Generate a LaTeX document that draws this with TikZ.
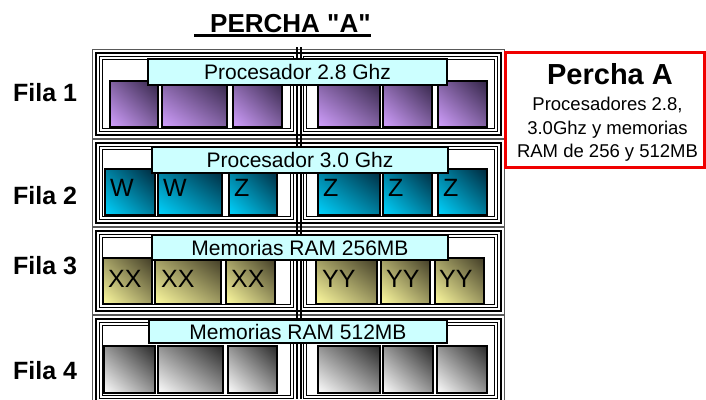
\documentclass[tikz,border=0pt]{standalone}
\usepackage{fontspec}
\usetikzlibrary{shadings}
\setmainfont{Liberation Sans}
\newfontfamily\plainsans{Liberation Sans}
\definecolor{purpL}{RGB}{210,160,255}
\definecolor{purpD}{RGB}{50,36,70}
\definecolor{purpM}{RGB}{130,98,162}
\definecolor{cyanL}{RGB}{0,212,255}
\definecolor{cyanD}{RGB}{0,40,60}
\definecolor{cyanM}{RGB}{0,126,158}
\definecolor{yelL}{RGB}{255,252,160}
\definecolor{yelD}{RGB}{65,60,38}
\definecolor{yelM}{RGB}{160,156,99}
\definecolor{greyL}{RGB}{255,255,255}
\definecolor{greyD}{RGB}{40,40,40}
\definecolor{greyM}{RGB}{148,148,148}
\definecolor{labelcyan}{RGB}{204,255,255}
\definecolor{perchared}{RGB}{240,0,0}
\begin{document}
\begin{tikzpicture}[x=1pt,y=-1pt,
  rowthin/.style={draw=black!65, line width=0.9pt},
  rowthick/.style={draw=black, line width=2pt},
  boxline/.style={draw=black, line width=1pt},
  chip/.style={draw=black, line width=1.5pt},
  purplechip/.style={chip, lower left=purpL, upper right=purpD, upper left=purpM, lower right=purpM},
  cyanchip/.style={chip, lower left=cyanL, upper right=cyanD, upper left=cyanM, lower right=cyanM},
  yellowchip/.style={chip, lower left=yelL, upper right=yelD, upper left=yelM, lower right=yelM},
  greychip/.style={chip, lower left=greyL, upper right=greyD, upper left=greyM, lower right=greyM},
  labelbox/.style={draw=black, line width=1.5pt, fill=labelcyan, inner sep=0pt,
    font=\fontsize{21}{25}\selectfont},
  fila/.style={anchor=base west, inner sep=0pt, font=\fontsize{25}{30}\selectfont\bfseries},
  chiptext/.style={anchor=base west, inner sep=0pt, font=\fontsize{25}{30}\selectfont},
  infotext/.style={anchor=base, inner sep=0pt, font=\fontsize{18.5}{22}\selectfont},
]
\useasboundingbox (0,0) rectangle (706,399);

% title
\node[anchor=base west, inner sep=0pt, font=\plainsans\fontsize{26}{31}\selectfont\bfseries]
  (title) at (194,32.3) {\hspace{16pt}PERCHA "A"};
\draw[line width=2.6pt] ([yshift=-3pt]title.south west) -- ([yshift=-3pt]title.south east);

% row frames
\foreach \ya/\yb in {49.5/138,139/226,227/314,315/405}{
  \draw[rowthin] (92,\ya) rectangle (504,\yb);
  \draw[rowthick] (95.5,\ya+3.5) rectangle (500.5,\yb-3.5);
  \draw[boxline] (99.5,\ya+7) rectangle (293.5,\yb-7);
  \draw[boxline] (102.5,\ya+10) rectangle (290.5,\yb-10);
  \draw[boxline] (303.5,\ya+7) rectangle (497.5,\yb-7);
  \draw[boxline] (306.5,\ya+10) rectangle (494.5,\yb-10);
}
% divider
\draw[line width=1.6pt] (297.2,47) -- (297.2,399);
\draw[line width=1.6pt] (300.8,47) -- (300.8,399);

% row 1 chips
\draw[purplechip] (110,81) rectangle (158,127);
\draw[purplechip] (162,81) rectangle (227,127);
\draw[purplechip] (233,81) rectangle (282,127);
\draw[purplechip] (318,81) rectangle (380,127);
\draw[purplechip] (383,81) rectangle (432,127);
\draw[purplechip] (438,81) rectangle (487,127);
% row 2 chips
\draw[cyanchip] (105,169) rectangle (155,215);
\draw[cyanchip] (158,169) rectangle (222,215);
\draw[cyanchip] (229,169) rectangle (277,215);
\draw[cyanchip] (318,169) rectangle (380,215);
\draw[cyanchip] (383,169) rectangle (432,215);
\draw[cyanchip] (438,169) rectangle (487,215);
% row 3 chips
\draw[yellowchip] (103,258) rectangle (152,304);
\draw[yellowchip] (155,258) rectangle (221,304);
\draw[yellowchip] (226,258) rectangle (275,304);
\draw[yellowchip] (316,258) rectangle (377,304);
\draw[yellowchip] (381,258) rectangle (430,304);
\draw[yellowchip] (435,258) rectangle (484,304);
% row 4 chips
\draw[greychip] (104,346) rectangle (155,393);
\draw[greychip] (158,346) rectangle (223,393);
\draw[greychip] (228,346) rectangle (277,393);
\draw[greychip] (318,346) rectangle (380,393);
\draw[greychip] (383,346) rectangle (433,393);
\draw[greychip] (437,346) rectangle (487,393);

% chip texts
\node[chiptext] (w1) at (110,196) {W};
\node[chiptext] (w2) at (163,196) {W};
\node[chiptext] (z1) at (234,196) {Z};
\node[chiptext] (z2) at (323,196) {Z};
\node[chiptext] (z3) at (388,196) {Z};
\node[chiptext] (z4) at (443,196) {Z};
\node[chiptext] (x1) at (108,287) {XX};
\node[chiptext] (x2) at (161,287) {XX};
\node[chiptext] (x3) at (231,287) {XX};
\node[chiptext] (y1) at (322,287) {YY};
\node[chiptext] (y2) at (386,287) {YY};
\node[chiptext] (y3) at (439,287) {YY};

% label boxes
\node[labelbox, minimum width=299pt, minimum height=26pt] (lab1) at (297.5,72) {Procesador 2.8 Ghz};
\node[labelbox, minimum width=296pt, minimum height=26pt] (lab2) at (300,160) {Procesador 3.0 Ghz};
\node[labelbox, minimum width=296pt, minimum height=25pt] (lab3) at (300,247.5) {Memorias RAM 256MB};
\node[labelbox, minimum width=298pt, minimum height=23pt] (lab4) at (298,331.5) {Memorias RAM 512MB};

% row labels
\node[fila] (f1) at (13,101.7) {Fila 1};
\node[fila] (f2) at (13,204) {Fila 2};
\node[fila] (f3) at (13,274) {Fila 3};
\node[fila] (f4) at (13,379) {Fila 4};

% info box
\node[draw=perchared, line width=3pt, minimum width=199.5pt, minimum height=115pt, inner sep=0pt]
  (info) at (605,110) {};
\node[anchor=base, inner sep=0pt, font=\fontsize{29}{34}\selectfont\bfseries] (infot) at (610,84) {Percha A};
\node[infotext] (i1) at (607.5,110.7) {Procesadores 2.8,};
\node[infotext] (i2) at (607.5,134) {3.0Ghz y memorias};
\node[infotext] (i3) at (607.5,157) {RAM de 256 y 512MB};
\end{tikzpicture}
\end{document}
